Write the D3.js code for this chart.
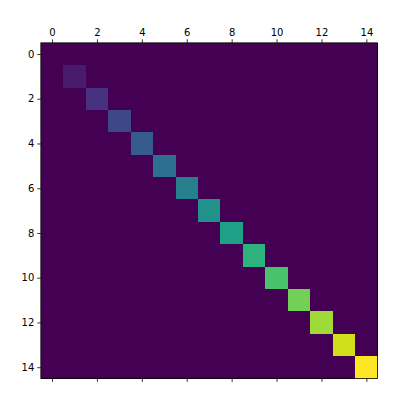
<!DOCTYPE html>
<html><head><script src="https://cdn.jsdelivr.net/npm/d3@7"></script>
<style>body{margin:0;background:#fff}</style></head><body>
<script>
const n = 15;
const diagValues = d3.range(15).map(i => i); // diagonal values 0..14
const tickLabels = [0,2,4,6,8,10,12,14];
const cells = [];
for (let r=0;r<n;r++) for (let c=0;c<n;c++) cells.push({r,c,v: r===c?diagValues[r]:0});
const W=406,H=408, L=40.8, R=377.6, T=42.8, B=378.4;
const svg=d3.select("body").append("svg").attr("width",W).attr("height",H);
const x=d3.scaleLinear().domain([-0.5,n-0.5]).range([L,R]);
const y=d3.scaleLinear().domain([-0.5,n-0.5]).range([T,B]);
const color=d3.scaleSequential(d3.interpolateViridis).domain([0,14]);
svg.selectAll("rect.c").data(cells).enter().append("rect")
 .attr("x",d=>x(d.c-0.5)).attr("y",d=>y(d.r-0.5))
 .attr("width",x(1)-x(0)+0.5).attr("height",y(1)-y(0)+0.5)
 .attr("shape-rendering","crispEdges")
 .attr("fill",d=>color(d.v));
const font="DejaVu Sans";
const gTop=svg.append("g").attr("transform",`translate(0,${T})`).call(d3.axisTop(x).tickValues(tickLabels).tickSize(3.5).tickPadding(3));
const gBot=svg.append("g").attr("transform",`translate(0,${B})`).call(d3.axisBottom(x).tickValues(tickLabels).tickSize(3.5).tickFormat(""));
const gLeft=svg.append("g").attr("transform",`translate(${L},0)`).call(d3.axisLeft(y).tickValues(tickLabels).tickSize(3.5).tickPadding(3));
[gTop,gBot,gLeft].forEach(g=>{g.select(".domain").remove();g.selectAll("text").attr("font-family",font).attr("font-size",10).attr("fill","#000");g.selectAll("line").attr("stroke","#000").attr("stroke-width",0.8);});
svg.append("rect").attr("x",L).attr("y",T).attr("width",R-L).attr("height",B-T).attr("fill","none").attr("stroke","#000").attr("stroke-width",0.8);
</script></body></html>
